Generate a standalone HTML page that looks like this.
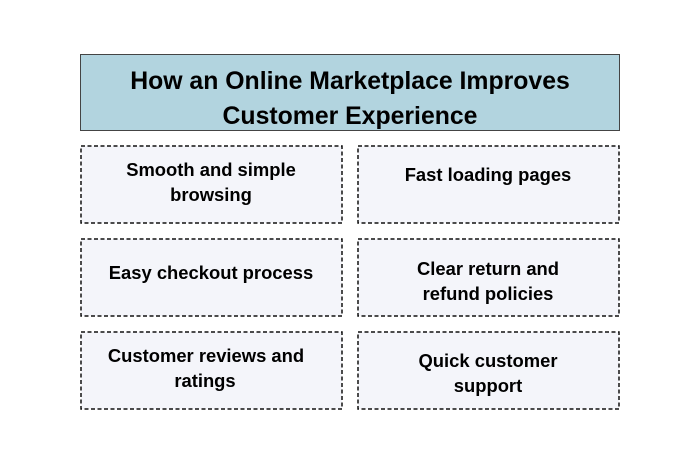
<!DOCTYPE html>
<html><head><meta charset="utf-8"><style>
html,body{margin:0;padding:0;background:#fff;width:700px;height:467px;overflow:hidden}
text{font-family:"Liberation Sans",Arial,sans-serif;font-weight:bold;fill:#000;text-anchor:middle}
</style></head><body>
<svg width="700" height="467" xmlns="http://www.w3.org/2000/svg">
<rect x="80.5" y="54.5" width="539" height="76" fill="#b2d4df" stroke="#444" stroke-width="1"/>
<text x="350" y="89" font-size="24.8">How an Online Marketplace Improves</text>
<text x="350" y="124" font-size="24.8">Customer Experience</text>
<g fill="#f4f5fa" stroke="#111" stroke-width="1.5" stroke-dasharray="4,2.5">
<rect x="81" y="146" width="261" height="77"/>
<rect x="358" y="146" width="261" height="77"/>
<rect x="81" y="239" width="261" height="77"/>
<rect x="358" y="239" width="261" height="77"/>
<rect x="81" y="332" width="261" height="77"/>
<rect x="358" y="332" width="261" height="77"/>
</g>
<g font-size="18.4">
<text x="211" y="176">Smooth and simple</text>
<text x="211" y="201">browsing</text>
<text x="488" y="181">Fast loading pages</text>
<text x="211" y="279">Easy checkout process</text>
<text x="488" y="275">Clear return and</text>
<text x="488" y="300">refund policies</text>
<text x="206" y="362">Customer reviews and</text>
<text x="205" y="387">ratings</text>
<text x="488" y="367">Quick customer</text>
<text x="488" y="392">support</text>
</g>
</svg>
</body></html>
